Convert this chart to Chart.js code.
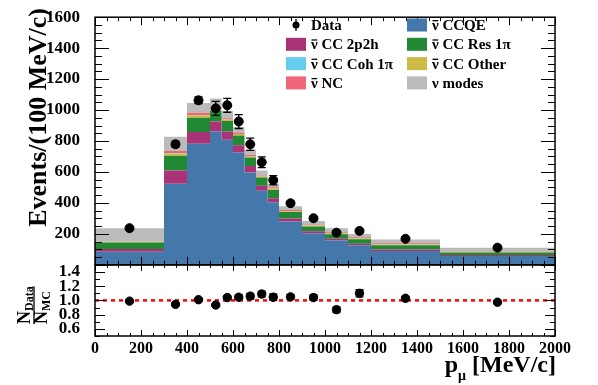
<!DOCTYPE html>
<html>
<head>
<meta charset="utf-8">
<script src="https://cdn.jsdelivr.net/npm/chart.js@4/dist/chart.umd.min.js"></script>
<style>
  html, body { margin: 0; padding: 0; background: #fff; }
  #wrap { position: relative; width: 598px; height: 385px; }
</style>
</head>
<body>
<div id="wrap"><canvas id="pmuChart" width="598" height="385"></canvas></div>
<script>
// p_mu bin edges, MeV/c
var binEdges = [0, 300, 400, 500, 550, 600, 650, 700, 750, 800, 900, 1000, 1100, 1200, 1500, 2000];

// MC components, events / (100 MeV/c), stacked bottom -> top
var ccqe    = [84, 524, 783, 861, 808, 726, 597, 479, 404, 280, 204, 158, 126, 90, 57];
var cc2p2h  = [19, 86, 76, 65, 54, 46, 42, 32, 27, 19, 13, 10, 10, 9, 6];
var ccRes   = [42, 95, 92, 68, 68, 64, 55, 53, 53, 42, 31, 30, 30, 27, 17];
var ccOther = [4, 15, 15, 13, 8, 9, 8, 6, 8, 6, 6, 6, 6, 6, 5];
var ccCoh   = [1, 2, 2, 2, 1, 1, 1, 1, 1, 1, 1, 1, 1, 1, 1];
var ncAll   = [3, 14, 15, 12, 8, 9, 8, 6, 8, 6, 6, 5, 6, 6, 4];
var nuModes = [84, 91, 63, 53, 47, 35, 32, 33, 25, 25, 23, 27, 21, 25, 21];

// data
var dataVals = [237, 779, 1063, 1011, 1031, 926, 779, 663, 547, 398, 301, 208, 219, 168, 111];
var dataErr  = [8, 20, 22, 45, 45, 45, 40, 35, 30, 12, 10, 10, 10, 8, 6];

// data / MC
var ratioVals = [0.99, 0.945, 1.01, 0.935, 1.04, 1.045, 1.06, 1.09, 1.045, 1.05, 1.04, 0.87, 1.1, 1.03, 0.975];
var ratioErr  = [0.01, 0.015, 0.015, 0.02, 0.02, 0.035, 0.04, 0.04, 0.045, 0.035, 0.04, 0.04, 0.05, 0.02, 0.02];
var ratioRef = 1.0;

var xTicks = [0, 200, 400, 600, 800, 1000, 1200, 1400, 1600, 1800, 2000];
var yTicks = [200, 400, 600, 800, 1000, 1200, 1400, 1600];
var ratioTicks = [0.6, 0.8, 1.0, 1.2, 1.4];

var FONT = 'Liberation Serif';
var col = {
  ccqe: '#4477AA', cc2p2h: '#AA3377', ccRes: '#228833', ccCoh: '#66CCEE',
  ccOther: '#CCBB44', nc: '#EE6677', nu: '#BBBBBB'
};

function steps(vals) {
  var pts = vals.map(function (v, i) { return {x: binEdges[i], y: v}; });
  pts.push({x: binEdges[binEdges.length - 1], y: vals[vals.length - 1]});
  return pts;
}
function centres(vals) {
  return vals.map(function (v, i) { return {x: (binEdges[i] + binEdges[i + 1]) / 2, y: v}; });
}
function histSet(label, vals, color, fill) {
  return {
    label: label, data: steps(vals), yAxisID: 'y', stack: 'mc', order: 2,
    stepped: true, fill: fill, backgroundColor: color,
    borderColor: 'rgba(0,0,0,0)', borderWidth: 1, pointRadius: 0
  };
}
function fixedTicks(list) {
  return function (s) { s.ticks = list.map(function (v) { return {value: v}; }); };
}

// legend entries: [text, colour, antineutrino?, column, row]
var legendItems = [
  ['Data', null, false, 0, 0], ['CC 2p2h', col.cc2p2h, true, 0, 1],
  ['CC Coh 1\u03c0', col.ccCoh, true, 0, 2], ['NC', col.nc, true, 0, 3],
  ['CCQE', col.ccqe, true, 1, 0], ['CC Res 1\u03c0', col.ccRes, true, 1, 1],
  ['CC Other', col.ccOther, true, 1, 2], ['modes', col.nu, false, 1, 3]
];

function errBars(ctx, xs, ys, vals, errs) {
  vals.forEach(function (v, i) {
    var px = xs.getPixelForValue((binEdges[i] + binEdges[i + 1]) / 2);
    var lo = ys.getPixelForValue(v - errs[i]), hi = ys.getPixelForValue(v + errs[i]);
    ctx.beginPath();
    ctx.moveTo(px, lo); ctx.lineTo(px, hi);
    ctx.moveTo(px - 4, lo); ctx.lineTo(px + 4, lo);
    ctx.moveTo(px - 4, hi); ctx.lineTo(px + 4, hi);
    ctx.stroke();
  });
}

function nuBar(ctx, x, y, size) {
  // nu with an overline, returns width
  ctx.fillText('\u03bd', x, y);
  var w = ctx.measureText('\u03bd').width;
  ctx.beginPath();
  ctx.moveTo(x + 0.5, y - size * 0.62);
  ctx.lineTo(x + w - 0.5, y - size * 0.62);
  ctx.lineWidth = 1.3;
  ctx.stroke();
  return w;
}

var decorations = {
  id: 'decorations',
  afterDatasetsDraw: function (chart) {
    var ctx = chart.ctx, xs = chart.scales.x, ys = chart.scales.y, yr = chart.scales.yR;
    ctx.save();
    ctx.strokeStyle = '#000';
    ctx.lineWidth = 1.3;
    errBars(ctx, xs, ys, dataVals, dataErr);
    errBars(ctx, xs, yr, ratioVals, ratioErr);
    ctx.restore();
  },
  afterDraw: function (chart) {
    var ctx = chart.ctx, xs = chart.scales.x, ys = chart.scales.y, yr = chart.scales.yR;
    var L = xs.left, R = xs.right;
    ctx.save();
    ctx.strokeStyle = '#000';
    ctx.fillStyle = '#000';

    // tick marks on all sides
    ctx.lineWidth = 1;
    ctx.beginPath();
    [[ys, 8, 4], [yr, 6, 3]].forEach(function (p) {
      var T = p[0].top, B = p[0].bottom;
      for (var v = 0; v <= 2000; v += 50) {
        var px = Math.round(xs.getPixelForValue(v)) + 0.5;
        var len = v % 200 === 0 ? p[1] : p[2];
        ctx.moveTo(px, B); ctx.lineTo(px, B - len);
        ctx.moveTo(px, T); ctx.lineTo(px, T + len);
      }
    });
    for (var v = 0; v <= 1600; v += 50) {
      var py = Math.round(ys.getPixelForValue(v)) + 0.5;
      var len = v % 200 === 0 ? 14 : 7;
      ctx.moveTo(L, py); ctx.lineTo(L + len, py);
      ctx.moveTo(R, py); ctx.lineTo(R - len, py);
    }
    for (var k = 5; k <= 15; k++) {
      var py2 = Math.round(yr.getPixelForValue(k / 10)) + 0.5;
      var len2 = k % 2 === 0 ? 10 : 5;
      ctx.moveTo(L, py2); ctx.lineTo(L + len2, py2);
      ctx.moveTo(R, py2); ctx.lineTo(R - len2, py2);
    }
    ctx.stroke();

    // frames
    ctx.lineWidth = 1.5;
    ctx.strokeRect(L, ys.top, R - L, ys.bottom - ys.top);
    ctx.strokeRect(L, yr.top, R - L, yr.bottom - yr.top);

    // y title (top panel)
    ctx.save();
    ctx.translate(46, 8);
    ctx.rotate(-Math.PI / 2);
    ctx.font = 'bold 26px "' + FONT + '"';
    ctx.textAlign = 'right';
    ctx.textBaseline = 'alphabetic';
    ctx.fillText('Events/(100 MeV/c)', 0, 0);
    ctx.restore();

    // ratio title  N_Data / N_MC
    ctx.save();
    ctx.translate(0, 324);
    ctx.rotate(-Math.PI / 2);
    ctx.textAlign = 'left';
    ctx.textBaseline = 'alphabetic';
    ctx.font = 'bold 18px "' + FONT + '"';
    ctx.fillText('N', 0, 30);
    var nw = ctx.measureText('N').width;
    ctx.font = 'bold 12px "' + FONT + '"';
    ctx.fillText('Data', nw, 33);
    var tw = nw + ctx.measureText('Data').width;
    ctx.font = 'bold 18px "' + FONT + '"';
    ctx.fillText('N', 0, 47);
    ctx.font = 'bold 12px "' + FONT + '"';
    ctx.fillText('MC', nw, 50);
    ctx.lineWidth = 1.3;
    ctx.beginPath();
    ctx.moveTo(0, 34); ctx.lineTo(tw, 34);
    ctx.stroke();
    ctx.restore();

    // x title  p_mu [MeV/c]
    ctx.font = 'bold 24px "' + FONT + '"';
    ctx.textBaseline = 'alphabetic';
    ctx.textAlign = 'right';
    ctx.fillText('[MeV/c]', 556, 372);
    var bw = ctx.measureText('[MeV/c]').width;
    ctx.font = 'bold 14px "' + FONT + '"';
    var mw = ctx.measureText('\u03bc').width;
    ctx.fillText('\u03bc', 556 - bw - 6, 380);
    ctx.font = 'bold 24px "' + FONT + '"';
    ctx.fillText('p', 556 - bw - 6 - mw, 372);

    // legend
    ctx.textAlign = 'left';
    ctx.font = 'bold 15px "' + FONT + '"';
    ctx.textBaseline = 'alphabetic';
    legendItems.forEach(function (it) {
      var sx = it[3] === 0 ? 286 : 407;
      var cy = 25 + it[4] * 19.3;
      if (it[1] === null) {
        ctx.beginPath();
        ctx.arc(sx + 10, cy, 3.5, 0, Math.PI * 2);
        ctx.fill();
        ctx.lineWidth = 1.3;
        ctx.beginPath();
        ctx.moveTo(sx + 10, cy - 6); ctx.lineTo(sx + 10, cy + 6);
        ctx.stroke();
        ctx.fillText(it[0], sx + 25, cy + 5);
        return;
      }
      ctx.fillStyle = it[1];
      ctx.fillRect(sx, cy - 6.5, 20, 13);
      ctx.fillStyle = '#000';
      var tx = sx + 25;
      var w;
      if (it[2]) {
        w = nuBar(ctx, tx, cy + 5, 15);
      } else {
        ctx.fillText('\u03bd', tx, cy + 5);
        w = ctx.measureText('\u03bd').width;
      }
      ctx.fillText(' ' + it[0], tx + w, cy + 5);
    });
    ctx.restore();
  }
};

Chart.defaults.font.family = FONT;
Chart.defaults.font.weight = 'bold';
Chart.defaults.color = '#000';

function plainLabel(v) { return String(v); }

new Chart(document.getElementById('pmuChart').getContext('2d'), {
  type: 'line',
  data: {
    datasets: [
      histSet('\u03bd\u0304 CCQE', ccqe, col.ccqe, 'origin'),
      histSet('\u03bd\u0304 CC 2p2h', cc2p2h, col.cc2p2h, '-1'),
      histSet('\u03bd\u0304 CC Res 1\u03c0', ccRes, col.ccRes, '-1'),
      histSet('\u03bd\u0304 CC Other', ccOther, col.ccOther, '-1'),
      histSet('\u03bd\u0304 CC Coh 1\u03c0', ccCoh, col.ccCoh, '-1'),
      histSet('\u03bd\u0304 NC', ncAll, col.nc, '-1'),
      histSet('\u03bd modes', nuModes, col.nu, '-1'),
      {
        label: 'Data', data: centres(dataVals), yAxisID: 'y', stack: 'data', order: 0,
        showLine: false, pointRadius: 4.5, pointBackgroundColor: '#000', pointBorderColor: '#000'
      },
      {
        label: 'Ratio', data: centres(ratioVals), yAxisID: 'yR', order: 0,
        showLine: false, pointRadius: 4.2, pointBackgroundColor: '#000', pointBorderColor: '#000'
      },
      {
        label: 'Unity', data: [{x: binEdges[0], y: ratioRef}, {x: binEdges[binEdges.length - 1], y: ratioRef}],
        yAxisID: 'yR', order: 3, borderColor: '#ff0000', borderWidth: 2.5, borderDash: [4, 4],
        pointRadius: 0, fill: false
      }
    ]
  },
  options: {
    responsive: false,
    animation: false,
    devicePixelRatio: 1,
    layout: { padding: { top: 9, right: 43, left: 0, bottom: 0 } },
    plugins: { legend: { display: false }, tooltip: { enabled: false } },
    scales: {
      x: {
        type: 'linear', min: 0, max: 2000,
        afterBuildTicks: fixedTicks(xTicks),
        ticks: { font: { size: 16, weight: 'bold' }, padding: -5, maxRotation: 0, autoSkip: false,
                 callback: plainLabel },
        grid: { display: false }, border: { display: false },
        afterFit: function (s) { s.height = 49; }
      },
      yR: {
        stack: 'panels', stackWeight: 73, position: 'left',
        min: 0.5, max: 1.5,
        afterBuildTicks: fixedTicks(ratioTicks),
        ticks: { font: { size: 17, weight: 'bold' }, padding: 7, autoSkip: false,
                 callback: function (v) { return Number(v).toFixed(1); } },
        grid: { display: false }, border: { display: false },
        afterFit: function (s) { s.width = 95; }
      },
      y: {
        stack: 'panels', stackWeight: 254, position: 'left', stacked: true,
        min: 0, max: 1600,
        afterBuildTicks: fixedTicks(yTicks),
        ticks: { font: { size: 17, weight: 'bold' }, padding: 7, autoSkip: false,
                 callback: plainLabel },
        grid: { display: false }, border: { display: false },
        afterFit: function (s) { s.width = 95; }
      }
    }
  },
  plugins: [decorations]
});
</script>
</body>
</html>
